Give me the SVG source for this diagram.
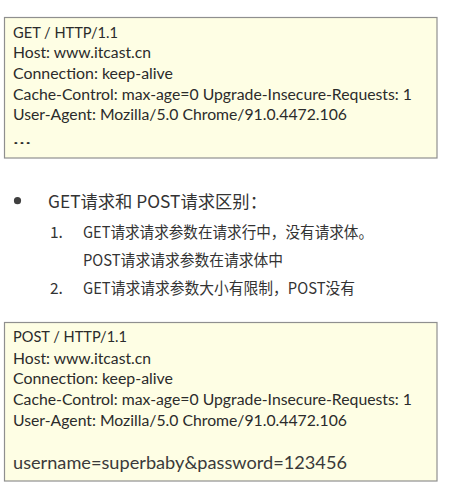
<svg xmlns="http://www.w3.org/2000/svg" width="465" height="497" viewBox="0 0 465 497">
<style>
.box{fill:#fefee4;stroke:#8f8f8f;stroke-width:1.2}
.code{font-family:Lato,"Open Sans","Liberation Sans",sans-serif;font-size:14.5px;fill:#2b2b2b}
.big{font-size:18px;fill:#3a3a3a}
.zh{font-family:"Noto Sans CJK SC","Noto Sans",sans-serif;fill:#333333}
.h{font-size:17.5px}
.li{font-size:15.5px}
</style>
<rect width="465" height="497" fill="#ffffff"/>
<g id="get-request">
<rect class="box" x="4.5" y="17.5" width="432.5" height="140.5"/>
<text class="code" x="13" y="37.5" textLength="105" lengthAdjust="spacingAndGlyphs">GET / HTTP/1.1</text>
<text class="code" x="13" y="58" textLength="138" lengthAdjust="spacingAndGlyphs">Host: www.itcast.cn</text>
<text class="code" x="13" y="79" textLength="160" lengthAdjust="spacingAndGlyphs">Connection: keep-alive</text>
<text class="code" x="13" y="99.5" textLength="399" lengthAdjust="spacingAndGlyphs">Cache-Control: max-age=0 Upgrade-Insecure-Requests: 1</text>
<text class="code" x="13" y="120" textLength="334" lengthAdjust="spacingAndGlyphs">User-Agent: Mozilla/5.0 Chrome/91.0.4472.106</text>
<text class="code" x="13" y="144" textLength="18" lengthAdjust="spacingAndGlyphs">…</text>
</g>
<g id="differences">
<circle cx="17.5" cy="200.7" r="3.6" fill="#404040"/>
<text class="zh h" x="48" y="207.5" textLength="219" lengthAdjust="spacingAndGlyphs">GET请求和 POST请求区别：</text>
<text class="zh li" x="50" y="238">1.</text>
<text class="zh li" x="83" y="238" textLength="290" lengthAdjust="spacingAndGlyphs">GET请求请求参数在请求行中，没有请求体。</text>
<text class="zh li" x="83" y="266" textLength="200" lengthAdjust="spacingAndGlyphs">POST请求请求参数在请求体中</text>
<text class="zh li" x="50" y="294">2.</text>
<text class="zh li" x="83" y="294" textLength="272" lengthAdjust="spacingAndGlyphs">GET请求请求参数大小有限制，POST没有</text>
</g>
<g id="post-request">
<rect class="box" x="4.5" y="322.5" width="432.5" height="158.5"/>
<text class="code" x="13" y="342" textLength="114" lengthAdjust="spacingAndGlyphs">POST / HTTP/1.1</text>
<text class="code" x="13" y="363.5" textLength="138" lengthAdjust="spacingAndGlyphs">Host: www.itcast.cn</text>
<text class="code" x="13" y="384" textLength="160" lengthAdjust="spacingAndGlyphs">Connection: keep-alive</text>
<text class="code" x="13" y="405" textLength="399" lengthAdjust="spacingAndGlyphs">Cache-Control: max-age=0 Upgrade-Insecure-Requests: 1</text>
<text class="code" x="13" y="425.5" textLength="334" lengthAdjust="spacingAndGlyphs">User-Agent: Mozilla/5.0 Chrome/91.0.4472.106</text>
<text class="code big" x="13" y="469" textLength="334" lengthAdjust="spacingAndGlyphs">username=superbaby&amp;password=123456</text>
</g>
<g id="connectors"/>
</svg>
